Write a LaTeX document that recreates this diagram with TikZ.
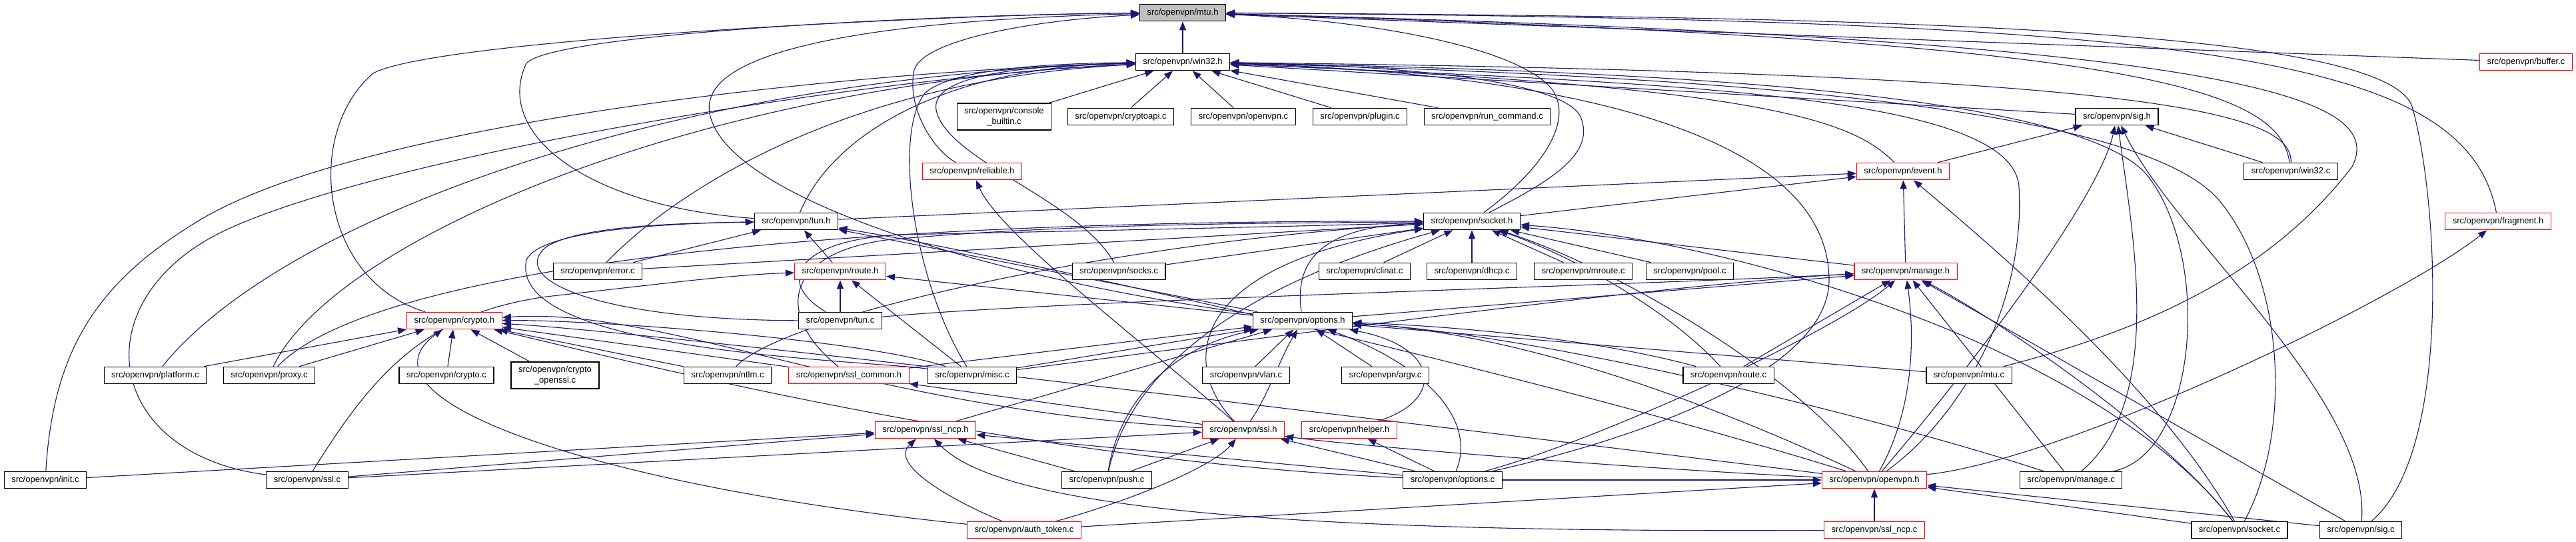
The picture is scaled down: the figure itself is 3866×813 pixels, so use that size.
\documentclass[tikz,border=0pt]{standalone}
\usepackage{fontspec}
\setmainfont{Liberation Sans}
\usetikzlibrary{arrows.meta,backgrounds}
\definecolor{edgeblue}{RGB}{25,25,112}
\definecolor{curfill}{RGB}{191,191,191}
\tikzset{
  file/.style={draw=black, fill=white, line width=1.2pt, inner xsep=11pt, inner ysep=3pt,
    minimum height=25.5pt, align=center, font=\fontsize{13}{16}\selectfont},
  redfile/.style={file, draw=red},
  curfile/.style={file, fill=curfill},
  dep/.style={draw=edgeblue, line width=1.1pt, -{Triangle[length=13pt,width=10pt]}}
}
\begin{document}
\begin{tikzpicture}[x=1pt, y=-1pt]
  \useasboundingbox (0,0) rectangle (3866,813);

  \node[curfile] (mtuh) at (1775,19) {src/openvpn/mtu.h};
  \node[file] (win32h) at (1775,93) {src/openvpn/win32.h};
  \node[redfile] (bufferc) at (3791,93) {src/openvpn/buffer.c};

  \node[file, inner ysep=6pt] (consolec) at (1507,175) {src/openvpn/console\\\_builtin.c};
  \node[file] (cryptoapic) at (1682,175) {src/openvpn/cryptoapi.c};
  \node[file] (openvpnc) at (1866,175) {src/openvpn/openvpn.c};
  \node[file] (pluginc) at (2041,175) {src/openvpn/plugin.c};
  \node[file] (runcmdc) at (2232,175) {src/openvpn/run\_command.c};
  \node[file] (sigh) at (3177,175) {src/openvpn/sig.h};

  \node[redfile] (reliableh) at (1459,257) {src/openvpn/reliable.h};
  \node[redfile] (eventh) at (2856,257) {src/openvpn/event.h};
  \node[file] (win32c) at (3438,257) {src/openvpn/win32.c};

  \node[file] (tunh) at (1195,332) {src/openvpn/tun.h};
  \node[file] (socketh) at (2209,332) {src/openvpn/socket.h};
  \node[redfile] (fragmenth) at (3749,332) {src/openvpn/fragment.h};

  \node[file] (errorc) at (897,407) {src/openvpn/error.c};
  \node[redfile] (routeh) at (1261,407) {src/openvpn/route.h};
  \node[file] (socksc) at (1679,407) {src/openvpn/socks.c};
  \node[file] (clinatc) at (2048,407) {src/openvpn/clinat.c};
  \node[file] (dhcpc) at (2209,407) {src/openvpn/dhcp.c};
  \node[file] (mroutec) at (2376,407) {src/openvpn/mroute.c};
  \node[file] (poolc) at (2536,407) {src/openvpn/pool.c};
  \node[redfile] (manageh) at (2860,407) {src/openvpn/manage.h};

  \node[redfile] (cryptoh) at (682,481) {src/openvpn/crypto.h};
  \node[file] (tunc) at (1261,481) {src/openvpn/tun.c};
  \node[file] (optionsh) at (1955,481) {src/openvpn/options.h};

  \node[file] (platformc) at (233,563) {src/openvpn/platform.c};
  \node[file] (proxyc) at (404,563) {src/openvpn/proxy.c};
  \node[file] (cryptoc) at (670,563) {src/openvpn/crypto.c};
  \node[file, inner ysep=6pt] (opensslc) at (833,563) {src/openvpn/crypto\\\_openssl.c};
  \node[file] (ntlmc) at (1092,563) {src/openvpn/ntlm.c};
  \node[redfile] (sslcommonh) at (1274,563) {src/openvpn/ssl\_common.h};
  \node[file] (miscc) at (1459,563) {src/openvpn/misc.c};
  \node[file] (vlanc) at (1870,563) {src/openvpn/vlan.c};
  \node[file] (argvc) at (2079,563) {src/openvpn/argv.c};
  \node[file] (routec) at (2594,563) {src/openvpn/route.c};
  \node[file] (mtuc) at (2955,563) {src/openvpn/mtu.c};

  \node[redfile] (sslncph) at (1389,645) {src/openvpn/ssl\_ncp.h};
  \node[redfile] (sslh) at (1866,645) {src/openvpn/ssl.h};
  \node[redfile] (helperh) at (2025,645) {src/openvpn/helper.h};

  \node[file] (initc) at (68,720) {src/openvpn/init.c};
  \node[file] (sslc) at (461,720) {src/openvpn/ssl.c};
  \node[file] (pushc) at (1661,720) {src/openvpn/push.c};
  \node[file] (optionsc) at (2180,720) {src/openvpn/options.c};
  \node[redfile] (openvpnh) at (2813,720) {src/openvpn/openvpn.h};
  \node[file] (managec) at (3108,720) {src/openvpn/manage.c};

  \node[redfile] (authtokenc) at (1537,795) {src/openvpn/auth\_token.c};
  \node[redfile] (sslncpc) at (2813,795) {src/openvpn/ssl\_ncp.c};
  \node[file] (socketc) at (3361,795) {src/openvpn/socket.c};
  \node[file] (sigc) at (3543,795) {src/openvpn/sig.c};

  \begin{pgfonlayer}{background}
    % into mtu.h
    \draw[dep] (win32h) -- (mtuh);
    \draw[dep] (bufferc) -- (mtuh);
    \draw[dep] (reliableh) .. controls (1400,225) and (1360,160) .. (1372,105) .. controls (1385,60) and (1550,30) .. (mtuh);
    \draw[dep] (tunh) .. controls (880,310) and (740,200) .. (790,95) .. controls (830,50) and (1400,22) .. (mtuh);
    \draw[dep] (cryptoh) .. controls (480,420) and (455,200) .. (560,110) .. controls (650,60) and (1400,22) .. (mtuh);
    \draw[dep] (optionsh) .. controls (1500,420) and (1090,300) .. (1065,170) .. controls (1045,60) and (1400,28) .. (mtuh);
    \draw[dep] (socketh) .. controls (2320,250) and (2360,180) .. (2330,135) .. controls (2280,70) and (2050,30) .. (mtuh);
    \draw[dep] (fragmenth) .. controls (3700,80) and (3300,30) .. (mtuh);
    \draw[dep] (win32c) .. controls (3420,130) and (3200,60) .. (mtuh);
    \draw[dep] (mtuc) .. controls (3200,500) and (3400,420) .. (3530,250) .. controls (3580,150) and (3400,60) .. (mtuh);
    \draw[dep] (sigc) .. controls (3680,680) and (3660,300) .. (3620,160) .. controls (3580,40) and (2800,25) .. (mtuh);

    % into win32.h
    \draw[dep] (consolec) -- (win32h);
    \draw[dep] (cryptoapic) -- (win32h);
    \draw[dep] (openvpnc) -- (win32h);
    \draw[dep] (pluginc) -- (win32h);
    \draw[dep] (runcmdc) -- (win32h);
    \draw[dep] (sigh) -- (win32h);
    \draw[dep] (eventh) .. controls (2780,180) and (2650,130) .. (win32h);
    \draw[dep] (win32c) .. controls (3440,170) and (3250,110) .. (win32h);
    \draw[dep] (tunh) .. controls (1250,200) and (1420,100) .. (win32h);
    \draw[dep] (socketh) .. controls (2330,270) and (2395,230) .. (2372,175) .. controls (2345,120) and (2100,98) .. (win32h);
    \draw[dep] (errorc) .. controls (1000,300) and (1250,120) .. (win32h);
    \draw[dep] (platformc) .. controls (420,330) and (1000,115) .. (win32h);
    \draw[dep] (proxyc) .. controls (500,360) and (1050,125) .. (win32h);
    \draw[dep] (socksc) .. controls (1620,300) and (1420,240) .. (1405,165) .. controls (1395,110) and (1550,98) .. (win32h);
    \draw[dep] (miscc) .. controls (1370,420) and (1340,200) .. (1388,140) .. controls (1430,100) and (1600,95) .. (win32h);
    \draw[dep] (initc) .. controls (80,520) and (150,420) .. (300,330) .. controls (550,180) and (1300,105) .. (win32h);
    \draw[dep] (sslc) .. controls (150,680) and (120,440) .. (350,340) .. controls (600,230) and (1300,115) .. (win32h);
    \draw[dep] (optionsc) .. controls (2450,660) and (2745,560) .. (2745,420) .. controls (2745,200) and (2350,110) .. (win32h);
    \draw[dep] (managec) .. controls (3300,680) and (3320,380) .. (3220,260) .. controls (3100,130) and (2400,105) .. (win32h);
    \draw[dep] (socketc) .. controls (3440,650) and (3430,420) .. (3330,300) .. controls (3200,150) and (2500,112) .. (win32h);
    \draw[dep] (openvpnh) .. controls (2950,620) and (3040,450) .. (3030,280) .. controls (3020,140) and (2500,125) .. (win32h);

    % into sig.h and event.h
    \draw[dep] (eventh) -- (sigh);
    \draw[dep] (win32c) -- (sigh);
    \draw[dep] (openvpnh) .. controls (2950,560) and (3150,300) .. (sigh);
    \draw[dep] (sigc) .. controls (3560,600) and (3260,350) .. (sigh);
    \draw[dep] (managec) .. controls (3250,600) and (3200,350) .. (sigh);
    \draw[dep] (tunh) -- (eventh);
    \draw[dep] (socketh) -- (eventh);
    \draw[dep] (manageh) -- (eventh);
    \draw[dep] (socketc) .. controls (3250,600) and (3050,420) .. (eventh);

    % into socket.h
    \draw[dep] (errorc) -- (socketh);
    \draw[dep] (socksc) -- (socketh);
    \draw[dep] (clinatc) -- (socketh);
    \draw[dep] (dhcpc) -- (socketh);
    \draw[dep] (mroutec) -- (socketh);
    \draw[dep] (poolc) -- (socketh);
    \draw[dep] (manageh) -- (socketh);
    \draw[dep] (optionsh) .. controls (1940,380) and (2000,340) .. (socketh);
    \draw[dep] (sslcommonh) .. controls (1160,470) and (1180,380) .. (1330,360) .. controls (1600,335) and (1900,335) .. (socketh);
    \draw[dep] (ntlmc) .. controls (1180,470) and (1700,360) .. (socketh);
    \draw[dep] (proxyc) .. controls (540,420) and (1100,330) .. (socketh);
    \draw[dep] (tunc) .. controls (1160,420) and (1200,360) .. (1350,352) .. controls (1700,345) and (2000,338) .. (socketh);
    \draw[dep] (sslh) .. controls (1780,560) and (1760,400) .. (socketh);
    \draw[dep] (pushc) .. controls (1690,580) and (1820,440) .. (socketh);
    \draw[dep] (routec) .. controls (2500,460) and (2350,380) .. (socketh);
    \draw[dep] (openvpnh) .. controls (2700,560) and (2420,400) .. (socketh);
    \draw[dep] (socketc) .. controls (3150,520) and (2600,360) .. (socketh);

    % into tun.h and route.h
    \draw[dep] (routeh) -- (tunh);
    \draw[dep] (errorc) -- (tunh);
    \draw[dep] (optionsh) -- (tunh);
    \draw[dep] (tunc) .. controls (900,480) and (760,420) .. (820,370) .. controls (870,340) and (1000,335) .. (tunh);
    \draw[dep] (miscc) .. controls (1300,540) and (760,530) .. (790,390) .. controls (810,345) and (1000,335) .. (tunh);
    \draw[dep] (openvpnh) .. controls (2300,560) and (1500,380) .. (tunh);
    \draw[dep] (tunc) -- (routeh);
    \draw[dep] (optionsh) -- (routeh);
    \draw[dep] (miscc) -- (routeh);
    \draw[dep] (sslc) .. controls (560,560) and (640,470) .. (820,445) .. controls (1000,425) and (1100,412) .. (routeh);

    % into manage.h
    \draw[dep] (optionsh) -- (manageh);
    \draw[dep] (routec) -- (manageh);
    \draw[dep] (managec) -- (manageh);
    \draw[dep] (sigc) -- (manageh);
    \draw[dep] (openvpnh) .. controls (2880,600) and (2870,480) .. (manageh);
    \draw[dep] (socketc) .. controls (3250,650) and (3000,480) .. (manageh);
    \draw[dep] (miscc) .. controls (1800,520) and (2500,425) .. (manageh);
    \draw[dep] (tunc) .. controls (1600,450) and (2400,430) .. (manageh);
    \draw[dep] (optionsc) .. controls (2400,660) and (2750,500) .. (manageh);

    % into options.h
    \draw[dep] (vlanc) -- (optionsh);
    \draw[dep] (argvc) -- (optionsh);
    \draw[dep] (sslcommonh) -- (optionsh);
    \draw[dep] (sslncph) -- (optionsh);
    \draw[dep] (miscc) -- (optionsh);
    \draw[dep] (mtuc) -- (optionsh);
    \draw[dep] (sslh) .. controls (1900,600) and (1920,540) .. (optionsh);
    \draw[dep] (pushc) .. controls (1680,600) and (1760,520) .. (optionsh);
    \draw[dep] (routec) .. controls (2400,510) and (2200,490) .. (optionsh);
    \draw[dep] (openvpnh) .. controls (2600,620) and (2300,500) .. (optionsh);
    \draw[dep] (optionsc) .. controls (2220,620) and (2120,540) .. (optionsh);
    \draw[dep] (helperh) .. controls (2170,600) and (2160,520) .. (optionsh);
    \draw[dep] (managec) .. controls (2800,620) and (2300,500) .. (optionsh);

    % into crypto.h
    \draw[dep] (platformc) -- (cryptoh);
    \draw[dep] (proxyc) -- (cryptoh);
    \draw[dep] (cryptoc) -- (cryptoh);
    \draw[dep] (opensslc) -- (cryptoh);
    \draw[dep] (ntlmc) -- (cryptoh);
    \draw[dep] (sslcommonh) -- (cryptoh);
    \draw[dep] (sslh) .. controls (1300,615) and (1000,460) .. (cryptoh);
    \draw[dep] (miscc) .. controls (1300,510) and (900,480) .. (cryptoh);
    \draw[dep] (authtokenc) .. controls (900,730) and (520,600) .. (cryptoh);
    \draw[dep] (openvpnh) .. controls (2000,620) and (1000,500) .. (cryptoh);
    \draw[dep] (optionsc) .. controls (1500,690) and (900,530) .. (cryptoh);

    % ssl headers
    \draw[dep] (sslh) -- (sslcommonh);
    \draw[dep] (sslh) .. controls (1700,500) and (1500,350) .. (reliableh);
    \draw[dep] (initc) -- (sslncph);
    \draw[dep] (sslc) -- (sslncph);
    \draw[dep] (pushc) -- (sslncph);
    \draw[dep] (optionsc) -- (sslncph);
    \draw[dep] (sslncpc) .. controls (1900,800) and (1500,760) .. (sslncph);
    \draw[dep] (authtokenc) .. controls (1450,760) and (1330,700) .. (sslncph);
    \draw[dep] (sslc) -- (sslh);
    \draw[dep] (pushc) -- (sslh);
    \draw[dep] (optionsc) -- (sslh);
    \draw[dep] (authtokenc) .. controls (1700,750) and (1820,700) .. (sslh);
    \draw[dep] (openvpnh) .. controls (2400,700) and (2000,665) .. (sslh);
    \draw[dep] (optionsc) -- (helperh);

    % into openvpn.h and fragment.h
    \draw[dep] (sslncpc) -- (openvpnh);
    \draw[dep] (socketc) -- (openvpnh);
    \draw[dep] (sigc) -- (openvpnh);
    \draw[dep] (authtokenc) -- (openvpnh);
    \draw[dep] (optionsc) -- (openvpnh);
    \draw[dep] (openvpnh) .. controls (3100,690) and (3600,450) .. (fragmenth);
  \end{pgfonlayer}
\end{tikzpicture}
\end{document}
